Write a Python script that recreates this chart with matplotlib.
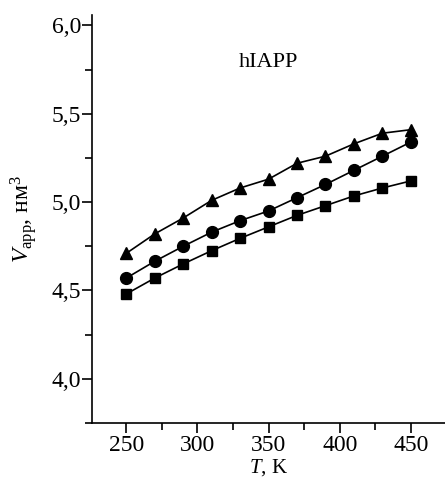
import matplotlib
matplotlib.use("Agg")
import matplotlib.pyplot as plt
from matplotlib.ticker import MultipleLocator, FuncFormatter

plt.rcParams['font.family'] = ['Liberation Serif', 'DejaVu Serif']
plt.rcParams['mathtext.fontset'] = 'custom'
plt.rcParams['mathtext.rm'] = 'Liberation Serif'
plt.rcParams['mathtext.it'] = 'Liberation Serif:italic'

# Data
T = [250, 270, 290, 310, 330, 350, 370, 390, 410, 430, 450]
v_triangle = [4.71, 4.82, 4.91, 5.01, 5.08, 5.13, 5.22, 5.26, 5.33, 5.39, 5.41]
v_circle = [4.57, 4.665, 4.75, 4.83, 4.895, 4.95, 5.025, 5.10, 5.18, 5.26, 5.34]
v_square = [4.48, 4.57, 4.65, 4.725, 4.795, 4.86, 4.925, 4.98, 5.035, 5.08, 5.12]

fig = plt.figure(figsize=(4.45, 4.79), dpi=100)
ax = fig.add_axes([0.207, 0.117, 0.793, 0.852])

ax.plot(T, v_triangle, color='black', lw=1.2, marker='^', ms=9)
ax.plot(T, v_circle, color='black', lw=1.2, marker='o', ms=8.5)
ax.plot(T, v_square, color='black', lw=1.2, marker='s', ms=7.2)

ax.set_xlim(226, 474)
ax.set_ylim(3.75, 6.06)

ax.xaxis.set_major_locator(MultipleLocator(50))
ax.xaxis.set_minor_locator(MultipleLocator(25))
ax.yaxis.set_major_locator(MultipleLocator(0.5))
ax.yaxis.set_minor_locator(MultipleLocator(0.25))
ax.yaxis.set_major_formatter(FuncFormatter(lambda v, p: f"{v:.1f}".replace('.', ',')))

ax.spines['top'].set_visible(False)
ax.spines['right'].set_visible(False)
ax.spines['left'].set_linewidth(1.2)
ax.spines['bottom'].set_linewidth(1.2)

ax.tick_params(which='major', direction='out', length=7, width=1.2, labelsize=17)
ax.tick_params(axis='y', which='major', pad=1)
ax.tick_params(axis='x', which='major', pad=2)
ax.tick_params(which='minor', direction='out', length=5, width=1.2)

ax.text(350, 5.79, "hIAPP", fontsize=16, ha='center', va='center')

ax.set_ylabel("$V_{\\mathrm{app}}$, нм$^3$", fontsize=17)
ax.yaxis.set_label_coords(-0.15, 0.5)

# x label placed right under the tick labels so it stays inside the figure
fig.canvas.draw()
r = fig.canvas.get_renderer()
tick_bottom = min(t.get_window_extent(r).y0 for t in ax.get_xticklabels())
ax.set_xlabel("$T$, K", fontsize=15)
ax.xaxis.label.set_va('top')
ax.xaxis.set_label_coords(0.207 + 0.793 / 2, (tick_bottom - 1) / fig.bbox.height,
                          transform=fig.transFigure)

plt.savefig("out.png", dpi=100)
